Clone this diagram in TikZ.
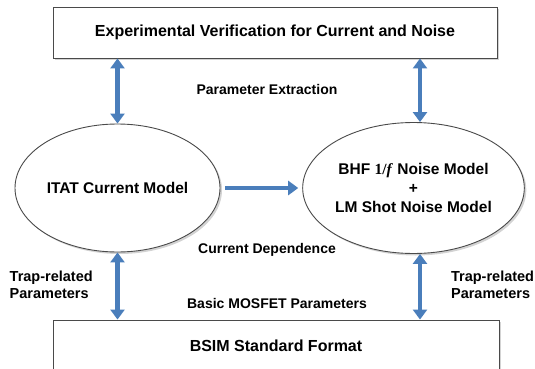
\documentclass[tikz,border=0pt]{standalone}
\usepackage{fontspec}
\setmainfont{Liberation Sans}
\newfontfamily\serifface{Liberation Serif}
\usetikzlibrary{arrows.meta,shapes.geometric,shadows}
\definecolor{arrowblue}{HTML}{4A7EBB}
\definecolor{edgegray}{HTML}{4A4A4A}
\begin{document}
\begin{tikzpicture}[x=1pt,y=-1pt,
  shadowed/.style={drop shadow={opacity=0.35,shadow xshift=2pt,shadow yshift=-2pt}},
  panel/.style={draw=edgegray,line width=0.9pt,fill=white,shadowed,inner sep=0pt,
    font=\bfseries\fontsize{16}{19}\selectfont},
  model/.style={ellipse,draw=edgegray,line width=0.9pt,fill=white,shadowed,inner sep=0pt,
    align=center,font=\bfseries\fontsize{15.5}{19}\selectfont},
  caption/.style={font=\bfseries\fontsize{14}{17}\selectfont,inner sep=0pt},
  sidenote/.style={font=\bfseries\fontsize{14.5}{17}\selectfont,inner sep=0pt,align=left},
  link/.style={draw=arrowblue,line width=4.5pt,
    {Triangle[width=14pt,length=10pt]}-{Triangle[width=14pt,length=10pt]}},
  flow/.style={draw=arrowblue,line width=4.5pt,-{Triangle[width=14pt,length=10pt]}}]
  \useasboundingbox (0,0) rectangle (535,369);

  % boxes and models
  \node[panel,minimum width=444pt,minimum height=50.5pt] (verif) at (275,32.75)
    {Experimental Verification for Current and Noise};
  \node[panel,minimum width=446pt,minimum height=52pt] (bsim) at (276,346)
    {BSIM Standard Format};
  \node[model,minimum width=205pt,minimum height=128pt] (itat) at (117.5,188)
    {ITAT Current Model};
  \node[model,minimum width=219pt,minimum height=131pt] (noise) at (413.5,188)
    {BHF {\serifface 1/\textit{f}} Noise Model\\+\\LM Shot Noise Model};

  % arrow anchor points on the noise model
  \coordinate (nTop) at ([xshift=6.5pt]noise.north);
  \coordinate (nBot) at ([xshift=6.5pt]noise.south);

  % connectors
  \draw[link] (verif.south -| itat.north) -- (itat.north);
  \draw[link] (verif.south -| nTop) -- (nTop);
  \draw[link] (itat.south) -- (itat.south |- bsim.north);
  \draw[link] (nBot) -- (nBot |- bsim.north);
  \draw[flow,shorten <=5pt,shorten >=4pt] (itat.east) -- (noise.west);

  % captions
  \node[caption] (pext) at (267,89) {Parameter Extraction};
  \node[caption] (cdep) at (267,250) {Current Dependence};
  \node[caption] (mosp) at (277,303) {Basic MOSFET Parameters};
  \node[sidenote,anchor=west] (trapL) at (9.5,284.5) {Trap-related\\Parameters};
  \node[sidenote,anchor=east] (trapR) at (534.3,284.5) {Trap-related\\Parameters};
\end{tikzpicture}
\end{document}
